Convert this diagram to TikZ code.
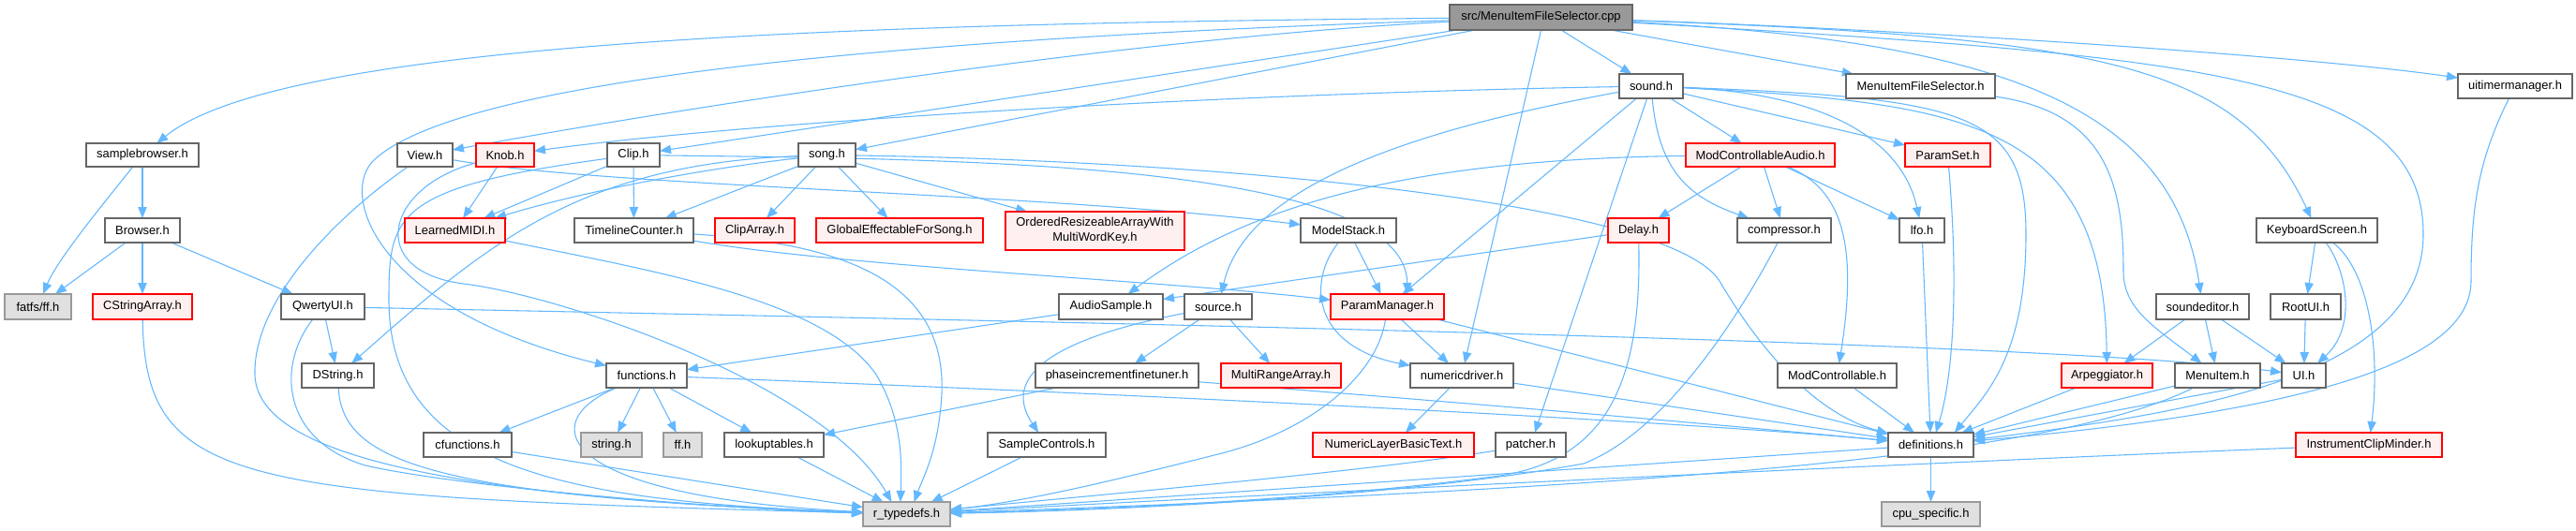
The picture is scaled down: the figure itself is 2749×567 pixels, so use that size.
\documentclass[tikz,border=0pt]{standalone}
\usepackage{fontspec}
\setmainfont{Liberation Sans}
\usetikzlibrary{arrows.meta,calc}
\pgfdeclarelayer{edges}
\pgfsetlayers{edges,main}
\definecolor{edgec}{HTML}{63B8FF}
\definecolor{normborder}{HTML}{666666}
\definecolor{truncfill}{HTML}{FFF0F0}
\definecolor{grayfill}{HTML}{E0E0E0}
\definecolor{grayborder}{HTML}{999999}
\definecolor{rootfill}{HTML}{999999}
\newcommand{\nbox}[7]{\node[#1, minimum width={(#4-#3)*0.75pt}, minimum height={(#6-#5)*0.75pt}] (#2) at ({(#3+#4)/2},{(#5+#6)/2}) {#7};}
\tikzset{
  basebox/.style={line width=0.9pt, inner sep=0pt, outer sep=0pt, align=center, font=\fontsize{9.7}{12}\selectfont},
  nrm/.style={basebox, draw=normborder, fill=white},
  trunc/.style={basebox, draw=red, fill=truncfill},
  gry/.style={basebox, draw=grayborder, fill=grayfill},
  rootn/.style={basebox, draw=normborder, fill=rootfill},
  e/.style={draw=edgec, line width=0.8pt, -{Triangle[length=9pt,width=7pt]}}
}
\begin{document}
\begin{tikzpicture}[x=0.75pt,y=-0.75pt]
\useasboundingbox (0,0) rectangle (2749,567);
% row 0
\nbox{rootn}{cpp}{1547}{1742}{5}{32}{src/MenuItemFileSelector.cpp}
% row 1
\nbox{nrm}{sound}{1728}{1796}{79}{105}{sound.h}
\nbox{nrm}{mifs}{1970}{2129}{79}{105}{MenuItemFileSelector.h}
\nbox{nrm}{uitm}{2623}{2745}{79}{105}{uitimermanager.h}
% row 2
\nbox{nrm}{sb}{92}{212}{153}{178}{samplebrowser.h}
\nbox{nrm}{view}{424}{483}{153}{178}{View.h}
\nbox{trunc}{knob}{508}{570}{153}{178}{Knob.h}
\nbox{nrm}{clip}{648}{704}{153}{178}{Clip.h}
\nbox{nrm}{song}{852}{913}{153}{178}{song.h}
\nbox{trunc}{mca}{1799}{1958}{153}{178}{ModControllableAudio.h}
\nbox{trunc}{pset}{2033}{2124}{153}{178}{ParamSet.h}
% row 3
\nbox{nrm}{browser}{112}{192}{233}{259}{Browser.h}
\nbox{trunc}{lmidi}{432}{539}{233}{259}{LearnedMIDI.h}
\nbox{nrm}{tlc}{613}{740}{233}{259}{TimelineCounter.h}
\nbox{trunc}{cliparr}{763}{848}{233}{259}{ClipArray.h}
\nbox{trunc}{gefs}{871}{1049}{233}{259}{GlobalEffectableForSong.h}
\nbox{trunc}{ora}{1073}{1264}{226}{267}{OrderedResizeableArrayWith\\MultiWordKey.h}
\nbox{nrm}{mstack}{1388}{1490}{233}{259}{ModelStack.h}
\nbox{trunc}{delay}{1716}{1781}{233}{259}{Delay.h}
\nbox{nrm}{comp}{1854}{1954}{233}{259}{compressor.h}
\nbox{nrm}{lfo}{2027}{2075}{233}{259}{lfo.h}
\nbox{nrm}{kbs}{2408}{2537}{233}{259}{KeyboardScreen.h}
% row 4
\nbox{gry}{fatfs}{5}{76}{314}{341}{fatfs/ff.h}
\nbox{trunc}{csa}{99}{205}{314}{341}{CStringArray.h}
\nbox{nrm}{qui}{300}{389}{314}{341}{QwertyUI.h}
\nbox{nrm}{asamp}{1130}{1241}{314}{341}{AudioSample.h}
\nbox{nrm}{source}{1264}{1336}{314}{341}{source.h}
\nbox{trunc}{pm}{1420}{1541}{314}{341}{ParamManager.h}
\nbox{nrm}{sed}{2301}{2400}{314}{341}{soundeditor.h}
\nbox{nrm}{rootui}{2423}{2498}{314}{341}{RootUI.h}
% row 5
\nbox{nrm}{dstr}{322}{399}{388}{414}{DString.h}
\nbox{nrm}{func}{647}{733}{388}{414}{functions.h}
\nbox{nrm}{phase}{1105}{1279}{388}{414}{phaseincrementfinetuner.h}
\nbox{trunc}{mra}{1303}{1431}{388}{414}{MultiRangeArray.h}
\nbox{nrm}{ndrv}{1505}{1615}{388}{414}{numericdriver.h}
\nbox{nrm}{mc}{1897}{2024}{388}{414}{ModControllable.h}
\nbox{trunc}{arp}{2200}{2297}{388}{414}{Arpeggiator.h}
\nbox{nrm}{mitem}{2321}{2412}{388}{414}{MenuItem.h}
\nbox{nrm}{ui}{2435}{2482}{388}{414}{UI.h}
% row 6
\nbox{nrm}{cfunc}{452}{546}{462}{488}{cfunctions.h}
\nbox{gry}{strh}{620}{685}{462}{488}{string.h}
\nbox{gry}{ffh}{708}{749}{462}{488}{ff.h}
\nbox{nrm}{lut}{773}{879}{462}{488}{lookuptables.h}
\nbox{nrm}{sctl}{1054}{1180}{462}{488}{SampleControls.h}
\nbox{trunc}{nlbt}{1401}{1573}{462}{488}{NumericLayerBasicText.h}
\nbox{nrm}{patcher}{1596}{1671}{462}{488}{patcher.h}
\nbox{nrm}{defs}{2015}{2106}{462}{488}{definitions.h}
\nbox{trunc}{icm}{2450}{2606}{462}{488}{InstrumentClipMinder.h}
% row 7
\nbox{gry}{rtd}{921}{1014}{536}{562}{r\_typedefs.h}
\nbox{gry}{cpu}{2008}{2113}{536}{562}{cpu\_specific.h}

\begin{pgfonlayer}{edges}
\fill[white] (0,0) rectangle (2749,567);
% from cpp
\draw[e] (cpp) -- (sound);
\draw[e] (cpp) -- (mifs);
\draw[e] (cpp) .. controls (2000,30) and (2450,58) .. (uitm);
\draw[e] (cpp) .. controls (2250,40) and (2390,70) .. (kbs);
\draw[e] (cpp) .. controls (2150,45) and (2320,120) .. (sed);
\draw[e] (cpp) .. controls (2350,60) and (2586,80) .. (2586,250) .. controls (2586,400) and (2350,440) .. (defs);
\draw[e] (cpp) .. controls (900,25) and (300,45) .. (sb);
\draw[e] (cpp) .. controls (1000,40) and (500,80) .. (400,170) .. controls (360,206) and (400,330) .. (func);
\draw[e] (cpp) .. controls (1200,40) and (700,120) .. (view);
\draw[e] (cpp) -- (clip);
\draw[e] (cpp) -- (song);
\draw[e] (cpp.south) -- (ndrv);
% from sound
\draw[e] (sound) .. controls (1300,100) and (800,130) .. (knob);
\draw[e] (sound) .. controls (1500,140) and (1330,200) .. (source);
\draw[e] (sound) -- (pm);
\draw[e] (sound) -- (patcher);
\draw[e] (sound) .. controls (1770,180) and (1800,210) .. (comp);
\draw[e] (sound) -- (mca);
\draw[e] (sound) -- (pset);
\draw[e] (sound) .. controls (1950,100) and (2030,150) .. (lfo);
\draw[e] (sound) .. controls (2100,110) and (2245,130) .. (arp);
\draw[e] (sound) .. controls (2100,105) and (2162,120) .. (2162,250) .. controls (2162,380) and (2120,420) .. ([xshift=19pt]defs.north);
% mifs, uitm
\draw[e] (mifs) .. controls (2250,120) and (2266,200) .. (2266,290) .. controls (2266,330) and (2300,350) .. (mitem);
\draw[e] (uitm) .. controls (2645,170) and (2637,220) .. (2637,300) .. controls (2637,390) and (2450,440) .. (defs);
% samplebrowser, browser
\draw[e] (sb) -- (browser);
\draw[e] (sb) .. controls (100,230) and (60,280) .. (fatfs);
\draw[e] (browser) -- (fatfs);
\draw[e] (browser) -- (csa);
\draw[e] (browser) -- (qui);
% view, knob, clip
\draw[e] (view) .. controls (650,200) and (1100,205) .. (mstack);
\draw[e] (view) .. controls (360,230) and (270,320) .. (272,400) .. controls (274,480) and (450,530) .. (rtd);
\draw[e] (knob) -- (lmidi);
\draw[e] (knob) .. controls (410,200) and (390,290) .. (495,303) .. controls (600,316) and (880,410) .. ([xshift=-12pt]rtd.north);
\draw[e] (clip) -- (lmidi);
\draw[e] (clip) -- (tlc);
\draw[e] (clip) .. controls (420,200) and (415,230) .. (415,320) .. controls (415,500) and (600,535) .. (rtd);
\draw[e] (clip) .. controls (1000,170) and (1500,170) .. ([xshift=16pt]pm.north);
% song
\draw[e] (song) .. controls (750,180) and (620,205) .. (lmidi);
\draw[e] (song) .. controls (620,175) and (520,260) .. (dstr);
\draw[e] (song) -- (tlc);
\draw[e] (song) -- (cliparr);
\draw[e] (song) -- (gefs);
\draw[e] (song) -- (ora);
\draw[e] (song) .. controls (1300,172) and (1780,215) .. (1835,300) .. controls (1870,360) and (1930,440) .. (defs);
% ModControllableAudio, ParamSet
\draw[e] (mca) .. controls (1500,170) and (1330,220) .. (asamp);
\draw[e] (mca) -- (delay);
\draw[e] (mca) -- (comp);
\draw[e] (mca) -- (lfo);
\draw[e] (mca) .. controls (1960,200) and (1985,250) .. (mc);
\draw[e] (pset) .. controls (2090,300) and (2085,400) .. ([xshift=4pt]defs.north);
% row 3 sources
\draw[e] (lmidi) .. controls (700,290) and (880,320) .. (935,400) .. controls (965,450) and (962,500) .. ([xshift=-5pt]rtd.north);
\draw[e] (tlc) .. controls (900,260) and (1010,300) .. (1005,420) .. controls (1002,480) and (985,510) .. ([xshift=6pt]rtd.north);
\draw[e] (tlc) .. controls (900,285) and (1250,300) .. (pm);
\draw[e] (mstack) -- (pm);
\draw[e] (mstack) .. controls (1395,300) and (1400,370) .. (ndrv);
\draw[e] (delay) -- (asamp);
\draw[e] (delay) .. controls (1752,400) and (1720,490) .. (1600,508) .. controls (1400,535) and (1150,545) .. (rtd);
\draw[e] (comp) .. controls (1860,330) and (1780,460) .. (1690,495) .. controls (1500,530) and (1200,545) .. (rtd);
\draw[e] (lfo) -- (defs);
\draw[e] (kbs) -- (rootui);
\draw[e] (kbs) .. controls (2505,290) and (2515,350) .. (ui);
\draw[e] (kbs) .. controls (2530,290) and (2540,380) .. (icm);
% row 4 sources
\draw[e] (csa) .. controls (155,520) and (250,530) .. (rtd);
\draw[e] (qui) -- (dstr);
\draw[e] (qui) .. controls (1200,345) and (2200,365) .. (ui);
\draw[e] (qui) .. controls (295,390) and (300,470) .. (390,497) .. controls (500,522) and (800,545) .. (rtd);
\draw[e] (asamp) -- (func);
\draw[e] (source) .. controls (1080,370) and (1080,420) .. (sctl);
\draw[e] (source) -- (phase);
\draw[e] (source) -- (mra);
\draw[e] (pm) -- (ndrv);
\draw[e] (pm) .. controls (1470,400) and (1400,460) .. (1300,485) .. controls (1200,510) and (1100,535) .. (rtd);
\draw[e] (pm) -- (defs);
\draw[e] (sed) -- (arp);
\draw[e] (sed) -- (mitem);
\draw[e] (sed) -- (ui);
\draw[e] (rootui) -- (ui);
% row 5 sources
\draw[e] (dstr) .. controls (365,490) and (450,530) .. (rtd);
\draw[e] (func) -- (cfunc);
\draw[e] (func) -- (strh);
\draw[e] (func) -- (ffh);
\draw[e] (func) -- (lut);
\draw[e] (func) .. controls (570,450) and (590,530) .. (rtd);
\draw[e] (func) .. controls (1200,420) and (1800,450) .. (defs);
\draw[e] (phase) -- (lut);
\draw[e] (phase) .. controls (1500,425) and (1800,450) .. (defs);
\draw[e] (ndrv) -- (nlbt);
\draw[e] (ndrv) -- (defs);
\draw[e] (mc) -- (defs);
\draw[e] (arp) -- (defs);
\draw[e] (mitem) -- (defs);
\draw[e] (mitem) .. controls (2200,485) and (1800,520) .. (rtd);
\draw[e] (ui) -- (defs);
% row 6 sources
\draw[e] (cfunc) -- (rtd);
\draw[e] (lut) -- (rtd);
\draw[e] (sctl) -- (rtd);
\draw[e] (patcher) .. controls (1450,505) and (1150,530) .. (rtd);
\draw[e] (defs) -- (rtd);
\draw[e] (defs) -- (cpu);
\draw[e] (icm) .. controls (2200,488) and (1500,520) .. (rtd);
\end{pgfonlayer}
\end{tikzpicture}
\end{document}
